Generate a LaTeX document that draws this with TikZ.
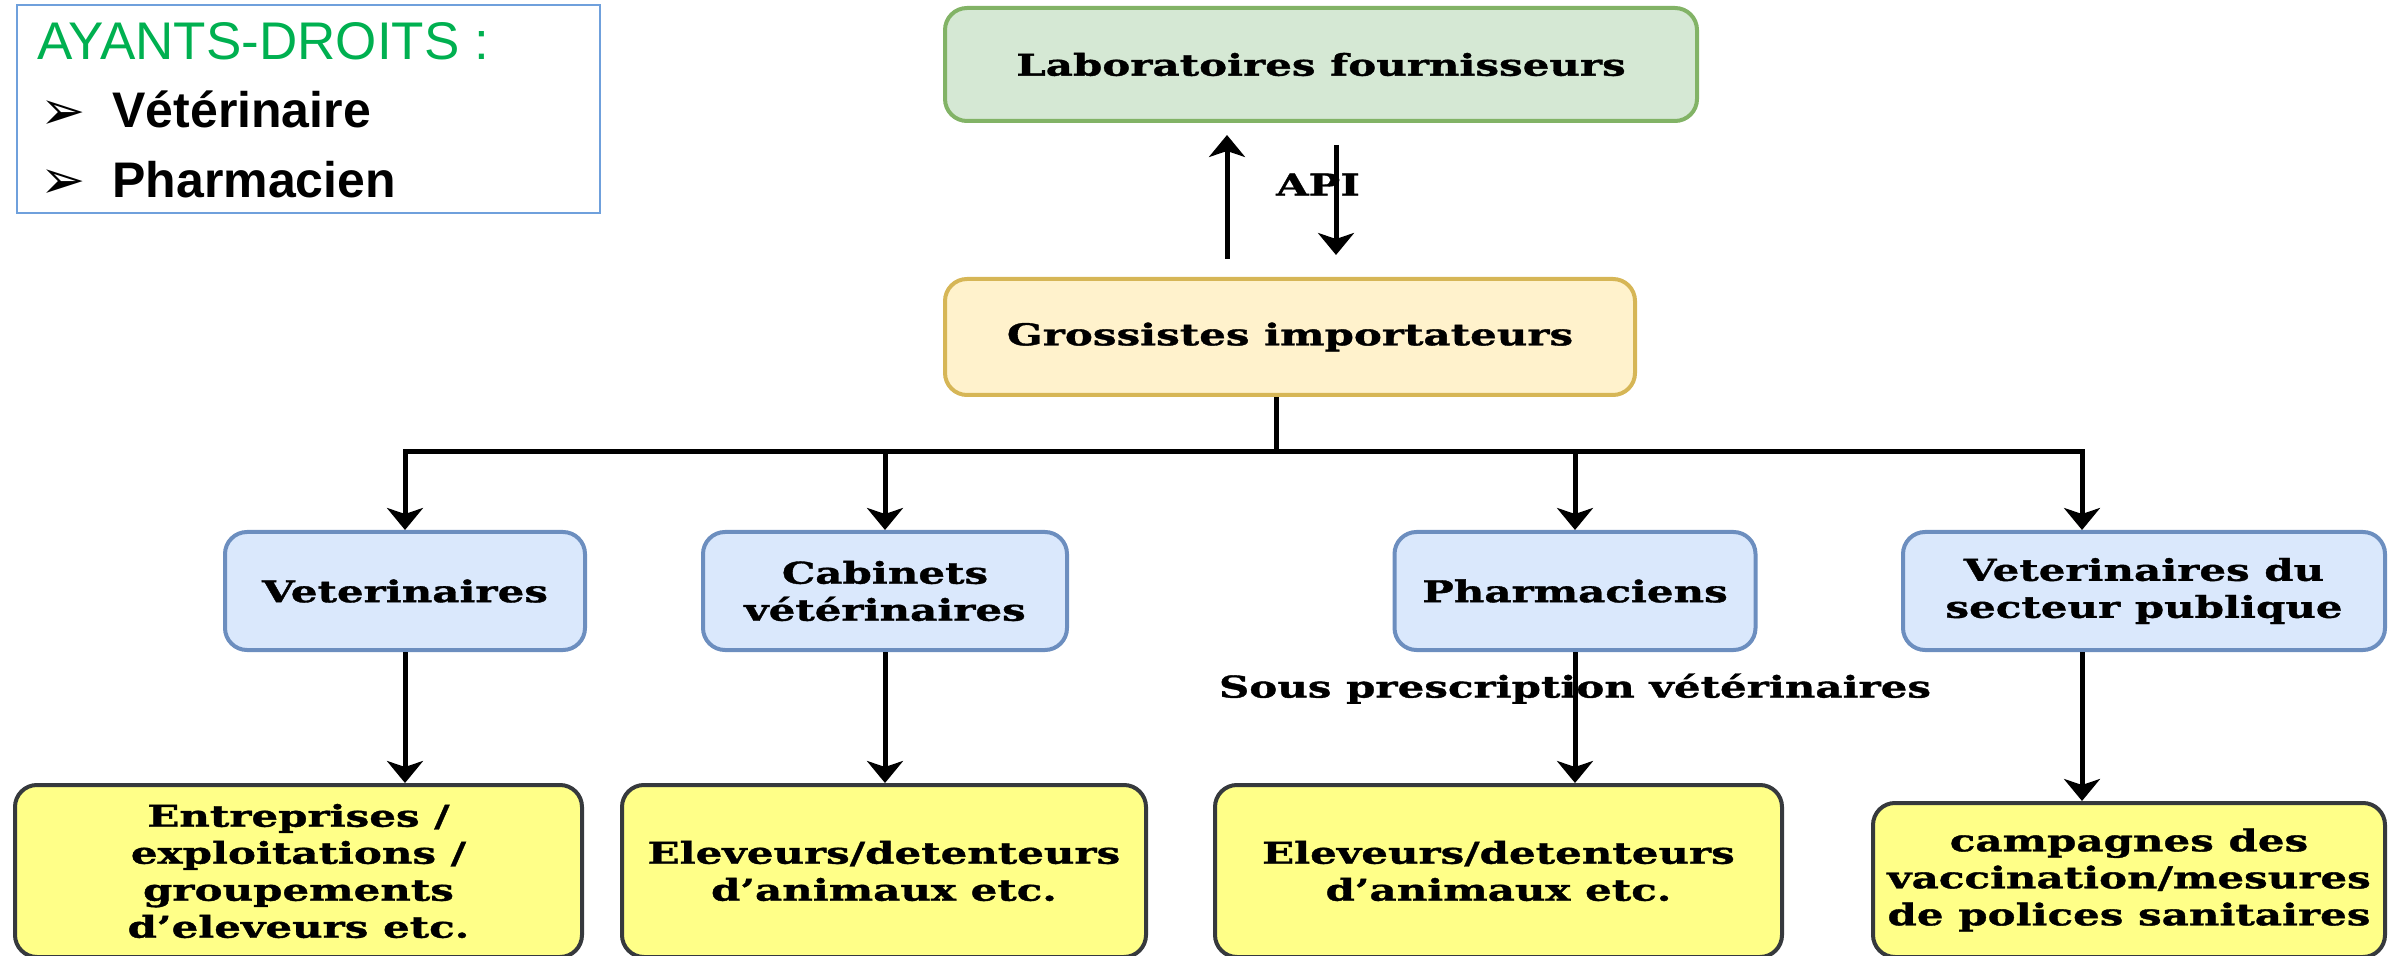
\documentclass[tikz,border=0pt]{standalone}
\usepackage{fontspec}
\usepackage{tikz}
\usetikzlibrary{arrows.meta}

\newfontfamily\diagfont[FakeStretch=1.4, BoldFeatures={FakeBold=1.2}]{DejaVu Serif}
\newfontfamily\legfont{Liberation Sans}
\newfontfamily\bulletfont{DejaVu Sans}

\definecolor{labfill}{HTML}{D5E8D4}
\definecolor{labline}{HTML}{82B366}
\definecolor{grossfill}{HTML}{FFF2CC}
\definecolor{grossline}{HTML}{D6B656}
\definecolor{bluefill}{HTML}{DAE8FC}
\definecolor{blueline}{HTML}{6C8EBF}
\definecolor{yelfill}{HTML}{FFFF88}
\definecolor{yelline}{HTML}{36393D}
\definecolor{legline}{HTML}{6FA0DC}
\definecolor{titlegreen}{HTML}{00B050}

\begin{document}
\begin{tikzpicture}[x=0.5pt, y=-0.5pt, >={Stealth[length=11pt, width=18pt, inset=3pt]},
    box/.style={draw, rounded corners=11pt, line width=2pt, align=center, inner sep=0pt,
        font=\diagfont\bfseries\fontsize{15}{18.5}\selectfont},
    labbox/.style={box, fill=labfill, draw=labline, minimum width=376pt, minimum height=56.5pt},
    grossbox/.style={box, fill=grossfill, draw=grossline, minimum width=345pt, minimum height=58pt},
    midbox/.style={box, fill=bluefill, draw=blueline, minimum height=59pt},
    endbox/.style={box, fill=yelfill, draw=yelline, minimum height=86pt},
    link/.style={line width=2.5pt},
    lbl/.style={font=\diagfont\bfseries\fontsize{15}{18.5}\selectfont, inner sep=0pt},
    legtext/.style={anchor=base west, inner sep=0pt, font=\legfont\bfseries\fontsize{25}{30}\selectfont},
    puce/.style={anchor=base west, inner sep=0pt, font=\bulletfont\fontsize{27}{30}\selectfont}]

    \useasboundingbox (0,0) rectangle (2403,956);

    % Legend
    \node (legend) [draw=legline, line width=1pt, minimum width=291.5pt, minimum height=104pt] at (308.5,109) {};
    \node (titre) [legtext, text=titlegreen, font=\legfont\fontsize{26.5}{30}\selectfont] at (37,60) {AYANTS-DROITS :};
    \node (puce1) [puce] at (40,130) {➢};
    \node (vetleg) [legtext] at (112,128) {Vétérinaire};
    \node (puce2) [puce] at (40,199) {➢};
    \node (pharmleg) [legtext] at (112,198) {Pharmacien};

    % Nodes
    \node (lab) [labbox] at (1321,64.5) {Laboratoires fournisseurs};
    \node (gross) [grossbox] at (1290,337) {Grossistes importateurs};

    \node (vet) [midbox, minimum width=180pt] at (405,591) {Veterinaires};
    \node (cab) [midbox, minimum width=182pt] at (885,591) {Cabinets\\vétérinaires};
    \node (pharm) [midbox, minimum width=180.5pt] at (1575,591) {Pharmaciens};
    \node (vetpub) [midbox, minimum width=241pt] at (2144,591) {Veterinaires du\\secteur publique};

    \node (ent) [endbox, minimum width=283.5pt] at (298.5,871) {Entreprises /\\exploitations /\\groupements\\d’eleveurs etc.};
    \node (elev1) [endbox, minimum width=262pt] at (884,871) {Eleveurs/detenteurs\\d’animaux etc.};
    \node (elev2) [endbox, minimum width=283.5pt] at (1498.5,871) {Eleveurs/detenteurs\\d’animaux etc.};
    \node (camp) [endbox, minimum width=256pt, minimum height=77pt] at (2129,880) {campagnes des\\vaccination/mesures\\de polices sanitaires};

    \coordinate (upx) at (1227,0);
    \coordinate (dnx) at (1336,0);
    \coordinate (bus) at (1276,452);
    \coordinate (pubx) at (2082,0);

    % Arrows and edge labels
    \draw[link, ->, shorten <=9pt, shorten >=6pt] (upx |- gross.north) -- (upx |- lab.south);
    \draw[link, ->, shorten <=11pt, shorten >=11pt] (dnx |- lab.south) -- node[lbl, xshift=-9pt, pos=0.4] {API} (dnx |- gross.north);

    \draw[link] (bus |- gross.south) -- (bus);
    \draw[link, ->] (pubx |- bus) -- (vet.north |- bus) -- (vet.north);
    \draw[link, ->] (vet.north |- bus) -- (pubx |- bus) -- (pubx |- vetpub.north);
    \draw[link, ->] (cab.north |- bus) -- (cab.north);
    \draw[link, ->] (pharm.north |- bus) -- (pharm.north);

    \draw[link, ->] (vet.south) -- (vet.south |- ent.north);
    \draw[link, ->] (cab.south) -- (cab.south |- elev1.north);
    \draw[link, ->] (pharm.south) -- node[lbl, pos=0.28] {Sous prescription vétérinaires} (pharm.south |- elev2.north);
    \draw[link, ->] (pubx |- vetpub.south) -- (pubx |- camp.north);

\end{tikzpicture}
\end{document}
